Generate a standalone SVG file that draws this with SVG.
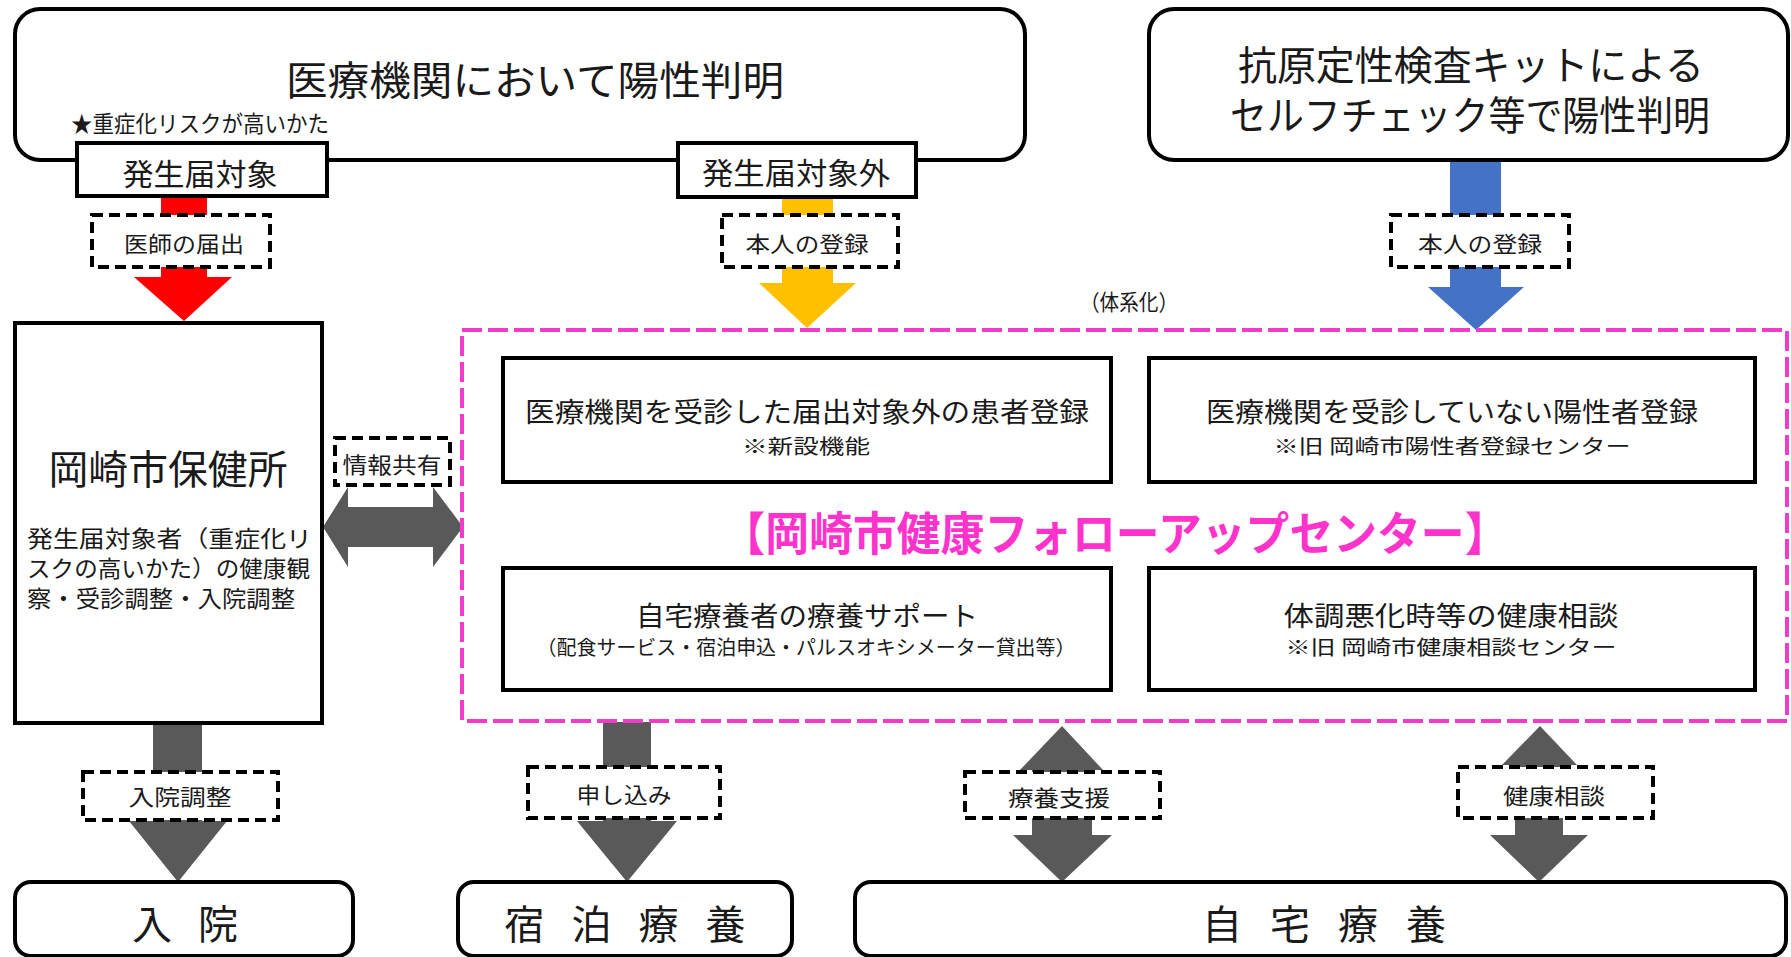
<svg xmlns="http://www.w3.org/2000/svg" width="1791" height="957" viewBox="0 0 1791 957">
<defs>
<style>
text{font-family:"Noto Sans CJK JP","Noto Sans CJK SC",sans-serif;fill:#1a1a1a;dominant-baseline:central;text-anchor:middle;}
.box{fill:#fff;stroke:#000;stroke-width:4;}
.lbl{fill:#fff;stroke:#000;stroke-width:4;stroke-dasharray:11 6;}
.gray{fill:#595959;}
.pink{fill:none;stroke:#F03CC8;stroke-width:4;stroke-dasharray:20 6;}
.sm{font-size:22px;}
.note{font-size:20px;}
</style>
</defs>
<rect width="1791" height="957" fill="#fff"/>

<g id="connectors">
  <path d="M161,196 H207 V277 H232 L184,321 L134,277 H161 Z" fill="#FF0000"/>
  <path d="M782,197 H833 V283 H856 L807,328 L759,283 H782 Z" fill="#FFC000"/>
  <path d="M1450,160 H1501 V287 H1524 L1476,330 L1428,287 H1450 Z" fill="#4472C4"/>
  <path class="gray" d="M323,527 L348,487 V507 H433 V487 L463,527 L433,567 V547 H348 V567 Z"/>
  <path class="gray" d="M153,723 H202 V821 H227 L178,882 L129,821 H153 Z"/>
  <path class="gray" d="M603,722 H651 V821 H677 L627,882 L577,821 H603 Z"/>
  <path class="gray" d="M1062,726 L1103,770 H1092 V835 H1112 L1062,882 L1013,835 H1032 V770 H1020 Z"/>
  <path class="gray" d="M1540,726 L1577,765 H1563 V835 H1588 L1539,882 L1490,835 H1515 V765 H1502 Z"/>

  <rect class="lbl" x="92" y="215" width="178" height="52"/>
  <text class="sm" x="184" y="242" textLength="120" lengthAdjust="spacingAndGlyphs">医師の届出</text>
  <rect class="lbl" x="722" y="215" width="176" height="52"/>
  <text class="sm" x="807" y="242" textLength="123" lengthAdjust="spacingAndGlyphs">本人の登録</text>
  <rect class="lbl" x="1391" y="215" width="178" height="52"/>
  <text class="sm" x="1480" y="242" textLength="124" lengthAdjust="spacingAndGlyphs">本人の登録</text>
  <rect class="lbl" x="335" y="438" width="115" height="47"/>
  <text class="sm" x="392" y="463" textLength="99" lengthAdjust="spacingAndGlyphs">情報共有</text>
  <rect class="lbl" x="83" y="772" width="195" height="48"/>
  <text class="sm" x="180" y="795" textLength="103" lengthAdjust="spacingAndGlyphs">入院調整</text>
  <rect class="lbl" x="528" y="767" width="192" height="51"/>
  <text class="sm" x="624" y="793" textLength="95" lengthAdjust="spacingAndGlyphs">申し込み</text>
  <rect class="lbl" x="965" y="772" width="195" height="46"/>
  <text class="sm" x="1059" y="796" textLength="102" lengthAdjust="spacingAndGlyphs">療養支援</text>
  <rect class="lbl" x="1458" y="767" width="195" height="51"/>
  <text class="sm" x="1554" y="794" textLength="102" lengthAdjust="spacingAndGlyphs">健康相談</text>
</g>

<g id="node-medical">
  <rect class="box" x="15" y="9" width="1010" height="151" rx="25"/>
  <text x="535" y="78" font-size="40" textLength="498" lengthAdjust="spacingAndGlyphs">医療機関において陽性判明</text>
  <text x="200" y="122" font-size="23" textLength="258" lengthAdjust="spacingAndGlyphs">★重症化リスクが高いかた</text>
</g>
<g id="node-report">
  <rect class="box" x="77" y="143" width="250" height="53"/>
  <text x="200" y="172" font-size="30" textLength="155" lengthAdjust="spacingAndGlyphs">発生届対象</text>
</g>
<g id="node-nonreport">
  <rect class="box" x="678" y="143" width="238" height="54"/>
  <text x="796" y="171" font-size="30" textLength="188" lengthAdjust="spacingAndGlyphs">発生届対象外</text>
</g>
<g id="node-selfcheck">
  <rect class="box" x="1149" y="9" width="639" height="151" rx="25"/>
  <text x="1471" y="63" font-size="40" textLength="466" lengthAdjust="spacingAndGlyphs">抗原定性検査キットによる</text>
  <text x="1470" y="113" font-size="40" textLength="480" lengthAdjust="spacingAndGlyphs">セルフチェック等で陽性判明</text>
</g>
<g id="node-hokenjo">
  <rect class="box" x="15" y="323" width="307" height="400"/>
  <text x="168" y="467" font-size="40" textLength="239" lengthAdjust="spacingAndGlyphs">岡崎市保健所</text>
  <text x="27" y="537" font-size="23" style="text-anchor:start" textLength="285" lengthAdjust="spacingAndGlyphs">発生届対象者（重症化リ</text>
  <text x="27" y="567" font-size="23" style="text-anchor:start" textLength="283" lengthAdjust="spacingAndGlyphs">スクの高いかた）の健康観</text>
  <text x="27" y="597" font-size="23" style="text-anchor:start" textLength="268" lengthAdjust="spacingAndGlyphs">察・受診調整・入院調整</text>
</g>
<g id="node-followup">
  <rect class="pink" x="462" y="330" width="1325" height="391"/>
  <text x="1129" y="300" font-size="22" textLength="98" lengthAdjust="spacingAndGlyphs">（体系化）</text>
  <text x="1115" y="530" font-size="46" font-weight="bold" style="fill:#FF33CC" textLength="787" lengthAdjust="spacingAndGlyphs">【岡崎市健康フォローアップセンター】</text>
</g>
<g id="node-reg1">
  <rect class="box" x="503" y="358" width="608" height="124"/>
  <text x="807" y="410" font-size="27" textLength="564" lengthAdjust="spacingAndGlyphs">医療機関を受診した届出対象外の患者登録</text>
  <text x="806" y="445" class="note" textLength="128" lengthAdjust="spacingAndGlyphs">※新設機能</text>
</g>
<g id="node-reg2">
  <rect class="box" x="1149" y="358" width="606" height="124"/>
  <text x="1452" y="410" font-size="27" textLength="492" lengthAdjust="spacingAndGlyphs">医療機関を受診していない陽性者登録</text>
  <text x="1452" y="445" class="note" textLength="357" lengthAdjust="spacingAndGlyphs">※旧 岡崎市陽性者登録センター</text>
</g>
<g id="node-support">
  <rect class="box" x="503" y="568" width="608" height="122"/>
  <text x="807" y="614" font-size="27" textLength="342" lengthAdjust="spacingAndGlyphs">自宅療養者の療養サポート</text>
  <text x="806" y="646" font-size="20" textLength="539" lengthAdjust="spacingAndGlyphs">（配食サービス・宿泊申込・パルスオキシメーター貸出等）</text>
</g>
<g id="node-consult">
  <rect class="box" x="1149" y="568" width="606" height="122"/>
  <text x="1451" y="614" font-size="27" textLength="335" lengthAdjust="spacingAndGlyphs">体調悪化時等の健康相談</text>
  <text x="1451" y="646" class="note" textLength="331" lengthAdjust="spacingAndGlyphs">※旧 岡崎市健康相談センター</text>
</g>
<g id="node-hospital">
  <rect class="box" x="15" y="882" width="338" height="74" rx="16"/>
  <text x="185" y="922" font-size="40" textLength="106" lengthAdjust="spacing">入 院</text>
</g>
<g id="node-hotel">
  <rect class="box" x="458" y="882" width="334" height="74" rx="16"/>
  <text x="625" y="922" font-size="40" textLength="241" lengthAdjust="spacing">宿 泊 療 養</text>
</g>
<g id="node-home">
  <rect class="box" x="855" y="882" width="931" height="74" rx="16"/>
  <text x="1324" y="922" font-size="40" textLength="244" lengthAdjust="spacing">自 宅 療 養</text>
</g>
</svg>
